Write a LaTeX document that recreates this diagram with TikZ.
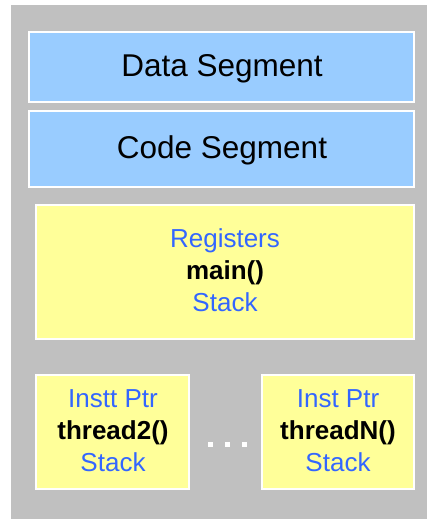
\documentclass[tikz,border=0pt]{standalone}
\usepackage{fontspec}
\setmainfont{Liberation Sans}
\definecolor{bggray}{HTML}{C0C0C0}
\definecolor{segblue}{HTML}{99CCFF}
\definecolor{stkyellow}{HTML}{FFFF99}
\definecolor{txtblue}{HTML}{3366FF}
\begin{document}
\begin{tikzpicture}[x=1pt,y=-1pt,
  segbox/.style={draw=white, line width=1.5pt, fill=segblue, inner sep=0pt, rectangle},
  stkbox/.style={draw=white, line width=1.5pt, fill=stkyellow, inner sep=0pt, rectangle},
  segtxt/.style={anchor=base, inner sep=0pt, font=\fontsize{31.5}{36}\selectfont},
  bluetxt/.style={anchor=base, inner sep=0pt, text=txtblue, font=\fontsize{26}{30}\selectfont},
  fntxt/.style={anchor=base, inner sep=0pt, font=\fontsize{26}{30}\selectfont\bfseries},
  dotsq/.style={fill=white, draw=none, minimum size=5pt, inner sep=0pt, rectangle}]
\useasboundingbox (0,0) rectangle (427,519);
\fill[bggray] (11,5) rectangle (427,519);
% segments
\node[segbox, minimum width=385pt, minimum height=70pt] (data) at (221.5,67) {};
\node[segtxt] (datat) at (222,77) {Data Segment};
\node[segbox, minimum width=385pt, minimum height=76pt] (code) at (221.5,149) {};
\node[segtxt] (codet) at (222,158) {Code Segment};
% main thread
\node[stkbox, minimum width=378pt, minimum height=134pt] (main) at (225,272) {};
\node[bluetxt] (mainreg) at (225,247) {Registers};
\node[fntxt] (mainfn) at (225,279) {main()};
\node[bluetxt] (mainstk) at (225,311) {Stack};
% thread 2
\node[stkbox, minimum width=153pt, minimum height=114pt] (t2) at (112.5,432) {};
\node[bluetxt] (t2ip) at (113,407) {Instt Ptr};
\node[fntxt] (t2fn) at (113,439) {thread2()};
\node[bluetxt] (t2stk) at (113,471) {Stack};
% thread N
\node[stkbox, minimum width=152pt, minimum height=114pt] (tn) at (338,432) {};
\node[bluetxt] (tnip) at (338,407) {Inst Ptr};
\node[fntxt] (tnfn) at (338,439) {threadN()};
\node[bluetxt] (tnstk) at (338,471) {Stack};
% dots
\node[dotsq] (d1) at (210,444) {};
\node[dotsq] (d2) at (227,444) {};
\node[dotsq] (d3) at (244,444) {};
\end{tikzpicture}
\end{document}
